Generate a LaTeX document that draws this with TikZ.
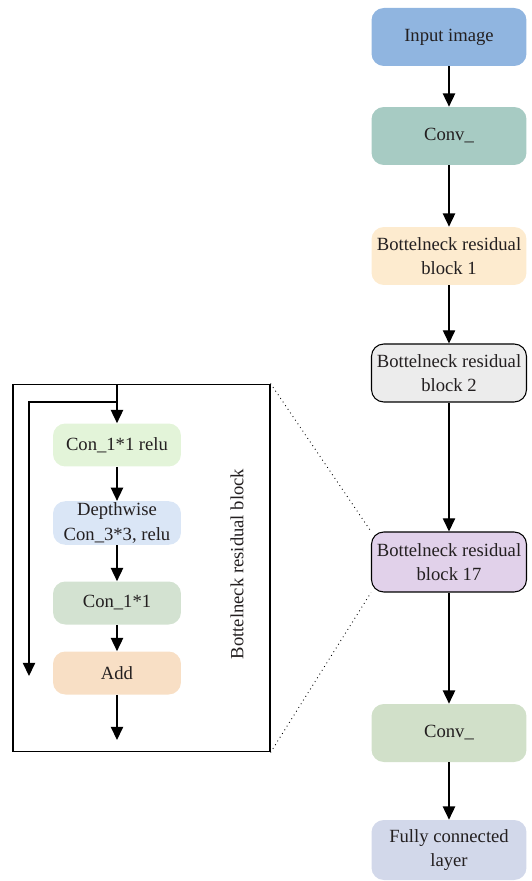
\documentclass[tikz,border=0pt]{standalone}
\usepackage{fontspec}
\setmainfont{Liberation Serif}
\usetikzlibrary{arrows.meta, positioning}
\definecolor{inblue}{HTML}{90B5E0}
\definecolor{convteal}{HTML}{A7CBC3}
\definecolor{bnorange}{HTML}{FDEBCF}
\definecolor{bngray}{HTML}{ECECEC}
\definecolor{bnpurple}{HTML}{E1D1EA}
\definecolor{convgreen}{HTML}{D1E0C9}
\definecolor{fcblue}{HTML}{D2D8EA}
\definecolor{cgreen}{HTML}{E3F4D9}
\definecolor{dwblue}{HTML}{DAE6F6}
\definecolor{cgreentwo}{HTML}{D3E2D1}
\definecolor{addorange}{HTML}{F8DFC5}
\definecolor{txt}{HTML}{231F20}

\begin{document}
\begin{tikzpicture}[x=0.02cm, y=-0.02cm,
                    font=\fontsize{10.6}{13.8}\selectfont, text=txt,
                    block/.style={rounded corners=7pt, minimum width=3.1cm, minimum height=1.16cm, align=center, inner sep=1pt},
                    inner/.style={rounded corners=7pt, minimum width=2.56cm, minimum height=0.86cm, align=center, inner sep=1pt},
                    arr/.style={-{Triangle[width=7pt, length=7.5pt]}, line width=0.75pt, draw=black}
                ]
                \useasboundingbox (0,0) rectangle (531,881);

                % main chain
                \node[block, fill=inblue] (input) at (449,37) {Input image};
                \node[block, fill=convteal] (conv1) at (449,136) {Conv\_};
                \node[block, fill=bnorange] (bn1) at (449,256) {Bottelneck residual\\block 1};
                \node[block, fill=bngray, draw=black, line width=0.6pt] (bn2) at (449,373) {Bottelneck residual\\block 2};
                \node[block, fill=bnpurple, draw=black, line width=0.6pt, minimum height=1.2cm] (bn17) at (449,562) {Bottelneck residual\\block 17};
                \node[block, fill=convgreen] (conv2) at (449,733) {Conv\_};
                \node[block, fill=fcblue, minimum height=1.2cm] (fc) at (449,850) {Fully connected\\layer};

                \draw[arr] (input) -- (conv1);
                \draw[arr] (conv1) -- (bn1);
                \draw[arr] (bn1) -- (bn2);
                \draw[arr] (bn2) -- (bn17);
                \draw[arr] (bn17) -- (conv2);
                \draw[arr] (conv2) -- (fc);

                % detail of one block
                \node[draw=black, line width=0.6pt, minimum width=5.14cm, minimum height=7.36cm, inner sep=0pt] (frame) at (141.5,568) {};
                \node[inner, fill=cgreen] (c1) at (117,445) {Con\_1*1 relu};
                \node[inner, fill=dwblue] (dw) at (117,523) {Depthwise\\Con\_3*3, relu};
                \node[inner, fill=cgreentwo] (c2) at (117,603) {Con\_1*1};
                \node[inner, fill=addorange] (add) at (117,673) {Add};
                \node[rotate=90] (lbl) at (237,564) {Bottelneck residual block};

                \coordinate (top) at (117,384);
                \coordinate (split) at (117,402);
                \coordinate (skip) at (29,402);
                \coordinate (skipend) at (29,676);
                \coordinate (out) at (117,740);

                \draw[arr] (top) -- (c1);
                \draw[arr] (c1) -- (dw);
                \draw[arr] (dw) -- (c2);
                \draw[arr] (c2) -- (add);
                \draw[arr] (add) -- (out);
                \draw[arr] (split) -- (skip) -- (skipend);

                % zoom lines
                \draw[dotted, line width=0.5pt] (frame.north east) -- (bn17.north west);
                \draw[dotted, line width=0.5pt] (frame.south east) -- (bn17.south west);
            \end{tikzpicture}
\end{document}
